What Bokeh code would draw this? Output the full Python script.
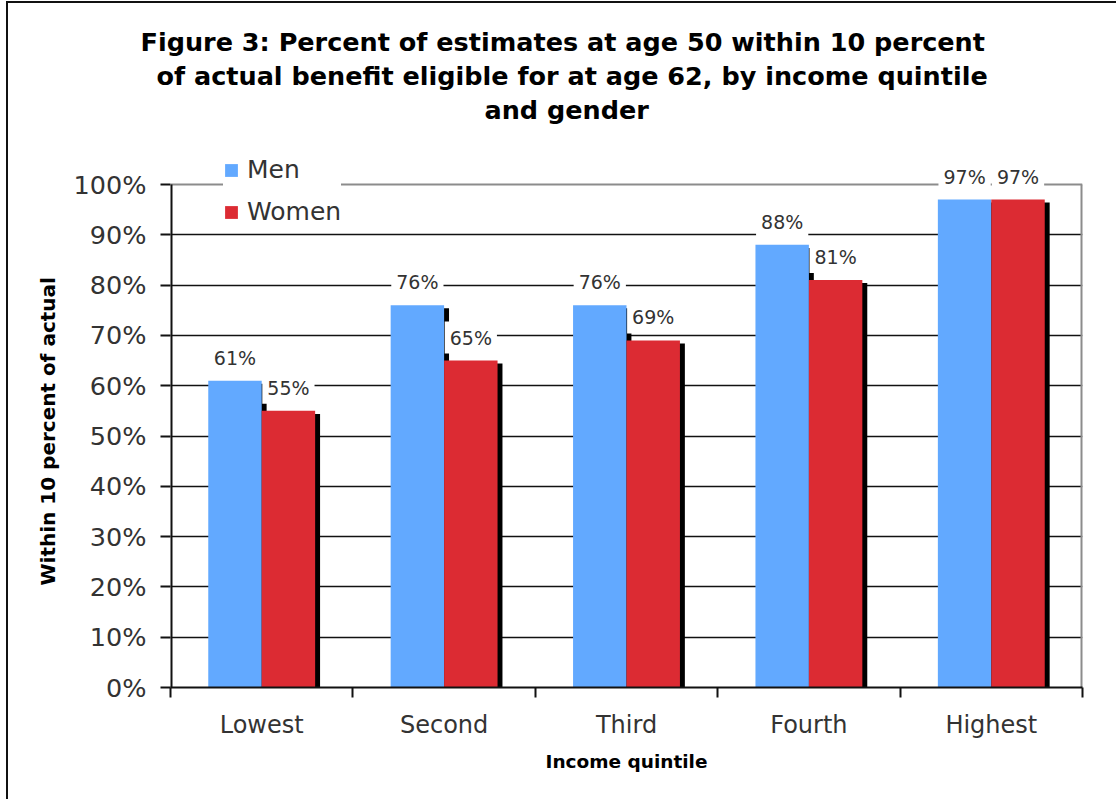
from bokeh.plotting import figure
from bokeh.models import (ColumnDataSource, FixedTicker, Legend, LegendItem,
                          Label, Title, Range1d)
from bokeh.transform import dodge
from bokeh.embed import file_html
from bokeh.resources import INLINE

# Data
quintiles = ["Lowest", "Second", "Third", "Fourth", "Highest"]
men = [61, 76, 76, 88, 97]
women = [55, 65, 69, 81, 97]
y_ticks = [0, 10, 20, 30, 40, 50, 60, 70, 80, 90, 100]
title_lines = [
    "Figure 3: Percent of estimates at age 50 within 10 percent",
    "of actual benefit eligible for at age 62, by income quintile",
    "and gender",
]
y_label = "Within 10 percent of actual"
x_label = "Income quintile"

# Styling
MEN_COLOR = "#62a9ff"
WOMEN_COLOR = "#dc2b33"
TEXT_COLOR = "#333333"
FRAME_GREY = "#8c8c8c"
FONT = "DejaVu Sans"
BAR_W = 0.293          # width of each bar, in category units
SHADOW_DX = 0.027      # drop shadow shift to the right
SHADOW_DY = 0.6        # drop shadow drop below the bar top
Y_TOP = 108.95         # head room above 100% for the legend and top labels
TITLE_LEFT = [-30, -14, 314]   # left edge of each title line, from the frame's left

centers = [i + 0.5 for i in range(len(quintiles))]
n = len(quintiles)
src = ColumnDataSource(dict(
    x=centers,
    men=men,
    women=women,
    men_sh=[v - SHADOW_DY for v in men],
    women_sh=[v - SHADOW_DY for v in women],
))

p = figure(width=1110, height=798, output_backend="svg", toolbar_location=None,
           x_range=Range1d(0, n), y_range=Range1d(0, Y_TOP),
           min_border_left=162, min_border_right=36, min_border_top=136,
           min_border_bottom=114, outline_line_color=None,
           background_fill_color="white", border_fill_color="white")
p.margin = (1, 0, 0, 6)
p.styles = {"border-left": "2px solid #111", "border-top": "2px solid #111"}

# Grey plot-area frame (top and right) and the black value axis line
p.segment(x0=[0], y0=[y_ticks[-1]], x1=[n], y1=[y_ticks[-1]],
          line_color=FRAME_GREY, line_width=2)
p.segment(x0=[n], y0=[0], x1=[n], y1=[y_ticks[-1]],
          line_color=FRAME_GREY, line_width=4)
p.segment(x0=[0], y0=[0], x1=[0], y1=[y_ticks[-1]],
          line_color="#111111", line_width=4)

# Shadows first, then bars on top
p.vbar(x=dodge("x", -BAR_W / 2 + SHADOW_DX), width=BAR_W, top="men_sh", bottom=0,
       source=src, color="black", line_width=0)
p.vbar(x=dodge("x", BAR_W / 2 + SHADOW_DX), width=BAR_W, top="women_sh", bottom=0,
       source=src, color="black", line_width=0)
r_men = p.vbar(x=dodge("x", -BAR_W / 2), width=BAR_W, top="men", bottom=0,
               source=src, fill_color=MEN_COLOR, line_color=None)
r_women = p.vbar(x=dodge("x", BAR_W / 2), width=BAR_W, top="women", bottom=0,
                 source=src, fill_color=WOMEN_COLOR, line_color=None)

# Value labels on white boxes
for vals, dx in ((men, -BAR_W / 2), (women, BAR_W / 2)):
    for xc, v in zip(centers, vals):
        p.add_layout(Label(x=xc + dx, y=v, text=f"{v}%", y_offset=7,
                           text_align="center", text_baseline="bottom",
                           text_font=FONT, text_font_size="19px",
                           text_color=TEXT_COLOR, background_fill_color="white",
                           padding=5))

# Category axis: boundary ticks, names centred under each group
xa = p.xaxis[0]
xa.ticker = FixedTicker(ticks=centers, minor_ticks=list(range(n + 1)))
xa.major_label_overrides = {c: q for c, q in zip(centers, quintiles)}
xa.major_tick_out = 0
xa.major_tick_in = 0
xa.minor_tick_out = 10
xa.minor_tick_in = 0
xa.minor_tick_line_color = "#111111"
xa.minor_tick_line_width = 2
xa.axis_line_color = "#111111"
xa.axis_line_width = 2
xa.major_label_standoff = 13
xa.major_label_text_font = FONT
xa.major_label_text_font_size = "24px"
xa.major_label_text_color = TEXT_COLOR
xa.axis_label = x_label
xa.axis_label_text_font = FONT
xa.axis_label_text_font_style = "bold"
xa.axis_label_text_font_size = "18.5px"
xa.axis_label_text_color = "black"
xa.axis_label_standoff = 9

# Value axis
ya = p.yaxis[0]
ya.ticker = FixedTicker(ticks=y_ticks, minor_ticks=[])
ya.major_label_overrides = {v: f"{v}%" for v in y_ticks}
ya.major_tick_out = 10
ya.major_tick_in = 0
ya.major_tick_line_color = "#111111"
ya.major_tick_line_width = 2
ya.axis_line_color = None
ya.major_label_standoff = 14
ya.major_label_text_font = FONT
ya.major_label_text_font_size = "25.5px"
ya.major_label_text_color = TEXT_COLOR

p.add_layout(Title(text=y_label, align="left", offset=102, standoff=22,
                   text_font=FONT, text_font_style="bold",
                   text_font_size="20px", text_color="black"), "left")

p.xgrid.visible = False
p.ygrid.ticker = FixedTicker(ticks=y_ticks[1:-1])
p.ygrid.grid_line_color = "#111111"
p.ygrid.grid_line_width = 1.5

# Small gap between the plot area and the title block
p.add_layout(Title(text=" ", text_font_size="1px", standoff=11), "above")
# Title, one line per Title, added bottom line first
for i, line in reversed(list(enumerate(title_lines))):
    p.add_layout(Title(text=line, align="left", offset=TITLE_LEFT[i],
                       text_font=FONT, text_font_style="bold",
                       text_font_size="25.5px", text_color="black",
                       standoff=2), "above")

legend = Legend(items=[LegendItem(label="Men", renderers=[r_men]),
                       LegendItem(label="Women", renderers=[r_women])],
                location=(53, 461), background_fill_color="white",
                background_fill_alpha=1.0, border_line_color=None,
                glyph_width=16, glyph_height=16, label_standoff=8,
                label_height=28, spacing=13, padding=7,
                margin=0, label_text_font=FONT, label_text_font_size="25px",
                label_text_color=TEXT_COLOR)
p.add_layout(legend)

open("out.html", "w").write(file_html(p, INLINE))
